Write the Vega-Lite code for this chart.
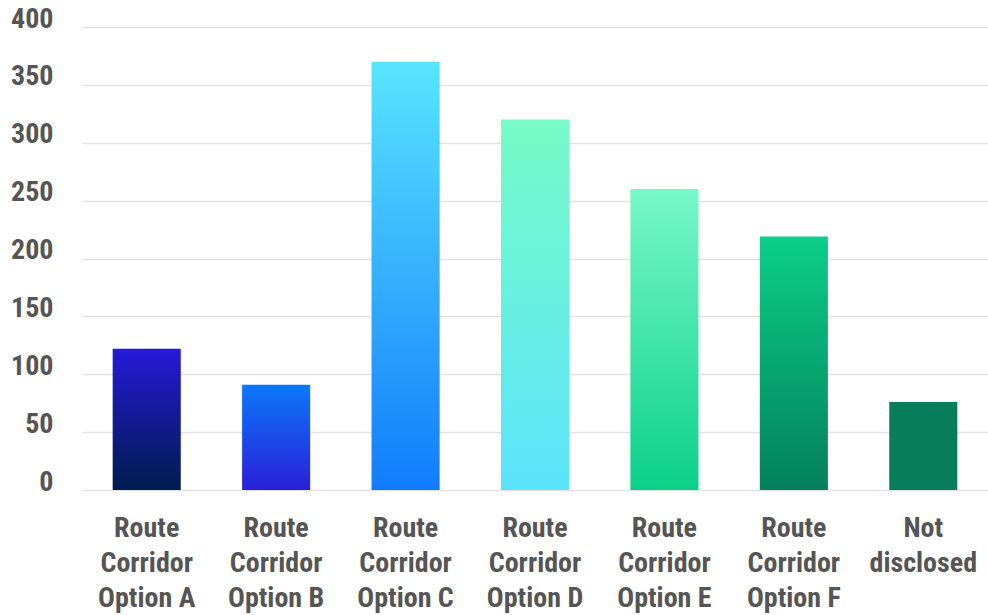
{
  "$schema": "https://vega.github.io/schema/vega-lite/v6.json",
  "autosize": "none",
  "width": 906,
  "height": 463,
  "padding": {"left": 82, "top": 27, "right": 0, "bottom": 125},
  "background": "#ffffff",
  "config": {"view": {"stroke": null}},
  "data": {"values": [
    {"category": "Route Corridor Option A", "value": 122},
    {"category": "Route Corridor Option B", "value": 91},
    {"category": "Route Corridor Option C", "value": 370},
    {"category": "Route Corridor Option D", "value": 320},
    {"category": "Route Corridor Option E", "value": 260},
    {"category": "Route Corridor Option F", "value": 219},
    {"category": "Not disclosed", "value": 76}
  ]},
  "encoding": {
    "x": {
      "field": "category", "type": "nominal",
      "sort": ["Route Corridor Option A","Route Corridor Option B","Route Corridor Option C","Route Corridor Option D","Route Corridor Option E","Route Corridor Option F","Not disclosed"],
      "scale": {"paddingInner": 0.474, "paddingOuter": 0.237},
      "axis": {
        "title": null, "domain": false, "ticks": false, "labelAngle": 0,
        "labelExpr": "split(replace(replace(replace(datum.value,'Route ','Route|'),'Corridor ','Corridor|'),'Not ','Not|'),'|')",
        "labelFont": "Liberation Sans Narrow, Roboto Condensed, Roboto, sans-serif",
        "labelFontSize": 28, "labelFontWeight": "bold", "labelColor": "#555555",
        "labelLineHeight": 35, "labelPadding": 24, "labelBaseline": "top"
      }
    },
    "y": {
      "field": "value", "type": "quantitative",
      "scale": {"domain": [0, 400], "nice": false},
      "axis": {
        "title": null, "domain": false, "ticks": false, "values": [0,50,100,150,200,250,300,350,400],
        "grid": true, "gridColor": "#e2e2e2", "gridWidth": 1.5,
        "labelFont": "Liberation Sans Narrow, Roboto Condensed, Roboto, sans-serif",
        "labelFontSize": 28, "labelFontWeight": "bold", "labelColor": "#555555",
        "labelPadding": 29, "labelBaseline": "alphabetic", "labelAlign": "right"
      }
    }
  },
  "layer": [
    {"transform": [{"filter": "datum.category == 'Route Corridor Option A'"}],
     "mark": {"type": "bar", "color": {"gradient": "linear", "x1": 0, "y1": 0, "x2": 0, "y2": 1, "stops": [{"offset": 0, "color": "#2519d8"}, {"offset": 1, "color": "#001c4e"}]}}},
    {"transform": [{"filter": "datum.category == 'Route Corridor Option B'"}],
     "mark": {"type": "bar", "color": {"gradient": "linear", "x1": 0, "y1": 0, "x2": 0, "y2": 1, "stops": [{"offset": 0, "color": "#0d78fb"}, {"offset": 1, "color": "#2a1fd8"}]}}},
    {"transform": [{"filter": "datum.category == 'Route Corridor Option C'"}],
     "mark": {"type": "bar", "color": {"gradient": "linear", "x1": 0, "y1": 0, "x2": 0, "y2": 1, "stops": [{"offset": 0, "color": "#58e4ff"}, {"offset": 1, "color": "#117cfb"}]}}},
    {"transform": [{"filter": "datum.category == 'Route Corridor Option D'"}],
     "mark": {"type": "bar", "color": {"gradient": "linear", "x1": 0, "y1": 0, "x2": 0, "y2": 1, "stops": [{"offset": 0, "color": "#77fbc6"}, {"offset": 1, "color": "#5ae4fc"}]}}},
    {"transform": [{"filter": "datum.category == 'Route Corridor Option E'"}],
     "mark": {"type": "bar", "color": {"gradient": "linear", "x1": 0, "y1": 0, "x2": 0, "y2": 1, "stops": [{"offset": 0, "color": "#78f8c8"}, {"offset": 1, "color": "#0bd08a"}]}}},
    {"transform": [{"filter": "datum.category == 'Route Corridor Option F'"}],
     "mark": {"type": "bar", "color": {"gradient": "linear", "x1": 0, "y1": 0, "x2": 0, "y2": 1, "stops": [{"offset": 0, "color": "#0bcf88"}, {"offset": 1, "color": "#04805b"}]}}},
    {"transform": [{"filter": "datum.category == 'Not disclosed'"}],
     "mark": {"type": "bar", "color": "#087d5a"}}
  ]
}
